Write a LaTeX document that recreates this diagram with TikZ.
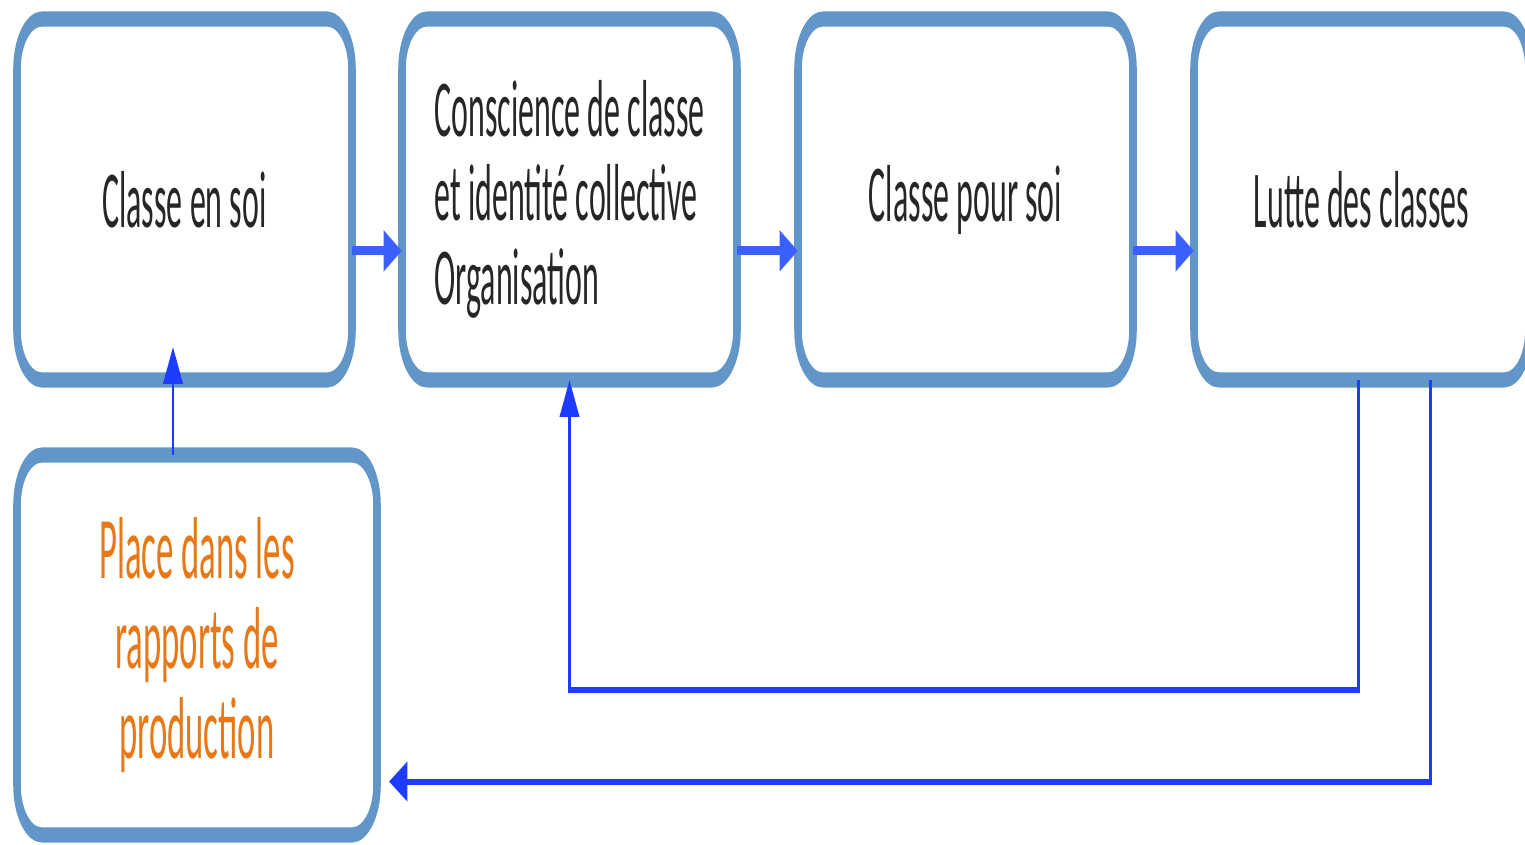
\documentclass[tikz,border=0pt]{standalone}
\usepackage{fontspec}
\setmainfont{Carlito}[FakeStretch=0.79]
\usepackage{tikz}
\usetikzlibrary{positioning,arrows.meta}
\definecolor{boxblue}{RGB}{98,150,200}
\definecolor{linkblue}{RGB}{30,60,255}
\definecolor{flowblue}{RGB}{60,95,255}
\definecolor{placeorange}{RGB}{232,120,22}

\begin{document}
\begin{tikzpicture}[>={Triangle[length=10.5pt,width=11pt]}, font=\fontsize{23}{24}\selectfont,
    box/.style={draw=boxblue, line width=4.3pt, rounded corners=0.5cm, fill=white,
      outer sep=0pt, inner sep=0pt, minimum width=6.7cm, minimum height=3.61cm, text=black!85},
    flow/.style={->, flowblue, line width=2.6pt},
    link/.style={->, linkblue, line width=1.7pt}]
  \useasboundingbox (0,0) rectangle (30.5,-16.88);
  \begin{scope}[x=0.02cm, y=-0.01cm, transform canvas={yscale=2}]
    \node[box, anchor=north west] (b1) at (17,19) {Classe en soi};
    \node[box, right=1cm of b1, align=left] (b2)
      {Conscience de classe\\et identité collective\\Organisation};
    \node[box, right=1.22cm of b2] (b3) {Classe pour soi};
    \node[box, right=1.22cm of b3] (b4) {Lutte des classes};
    \node[box, anchor=north west, minimum width=7.2cm, minimum height=3.8cm,
      text=placeorange, align=center, font=\fontsize{25}{25.5}\selectfont] (b5)
      at ([yshift=-0.75cm]b1.south west) {Place dans les\\rapports de\\production};

    \coordinate (mid) at (0,251);
    \coordinate (turnA) at (0,690);
    \coordinate (turnB) at (0,782);

    \draw[flow] (b1.east |- mid) -- (b2.west |- mid);
    \draw[flow] (b2.east |- mid) -- (b3.west |- mid);
    \draw[flow] (b3.east |- mid) -- (b4.west |- mid);

    \draw[link, shorten >=-0.33cm] ([xshift=-0.23cm]b1.south |- b5.north) -- ([xshift=-0.23cm]b1.south);
    \draw[link] ([xshift=-0.07cm]b4.south) |- (b2.south |- turnA) -- (b2.south);
    \draw[link, shorten >=0.24cm] ([xshift=1.37cm]b4.south) |- (b5.east |- turnB);
  \end{scope}
\end{tikzpicture}
\end{document}
